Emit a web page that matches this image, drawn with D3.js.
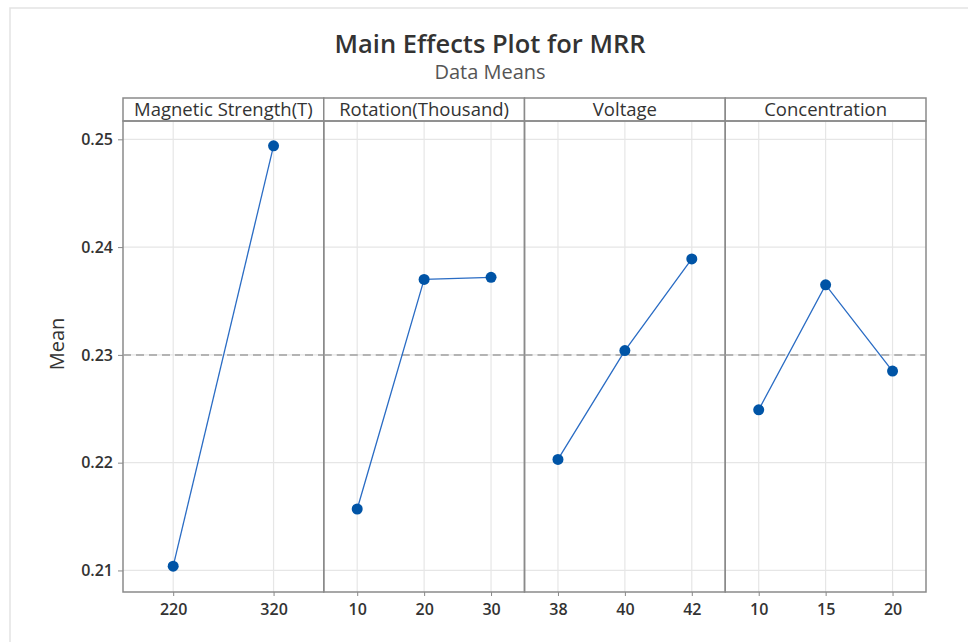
<!DOCTYPE html>
<html>
<head>
<meta charset="utf-8">
<script src="https://cdn.jsdelivr.net/npm/d3@7"></script>
<style>
  body { margin: 0; background: #fff; }
  svg { display: block; font-family: "Open Sans", "Noto Sans", sans-serif; }
</style>
</head>
<body>
<div id="chart"></div>
<script>
// factors and their levels
const factors = ["Magnetic Strength(T)", "Rotation(Thousand)", "Voltage", "Concentration"];
const levels = [
  ["220", "320"],
  ["10", "20", "30"],
  ["38", "40", "42"],
  ["10", "15", "20"]
];
// data means for each level
const means = [
  [0.2104, 0.2494],
  [0.2157, 0.2370, 0.2372],
  [0.2203, 0.2304, 0.2389],
  [0.2249, 0.2365, 0.2285]
];
const grandMean = 0.2300;
const yTicks = [0.21, 0.22, 0.23, 0.24, 0.25];

var width = 968, height = 642;
var margin = {top: 98, right: 42, bottom: 50, left: 123};
var stripH = 23;

var svg = d3.select("#chart")
  .append("svg")
    .attr("width", width)
    .attr("height", height);

// light outer frame
svg.append("path")
  .attr("d", "M10," + height + "V8H" + width)
  .attr("fill", "none")
  .attr("stroke", "#e3e3e3")
  .attr("stroke-width", 1.5);

var plotTop = margin.top + stripH,
    plotBottom = height - margin.bottom,
    plotLeft = margin.left,
    plotRight = width - margin.right;

// panels
var xPanel = d3.scaleBand()
  .domain(factors)
  .range([plotLeft, plotRight])
  .paddingInner(0);

var y = d3.scaleLinear()
  .domain([0.208, 0.2517])
  .range([plotBottom, plotTop]);

// horizontal gridlines
svg.append("g")
  .selectAll("line")
  .data(yTicks)
  .join("line")
    .attr("x1", plotLeft)
    .attr("x2", plotRight)
    .attr("y1", d => y(d))
    .attr("y2", d => y(d))
    .attr("stroke", "#e6e6e6")
    .attr("stroke-width", 1.2);

// y axis
var yAxis = svg.append("g")
  .attr("transform", "translate(" + plotLeft + ",0)")
  .call(d3.axisLeft(y).tickValues(yTicks).tickSize(5).tickPadding(5).tickFormat(d3.format(".2f")));
yAxis.select(".domain").remove();
yAxis.selectAll(".tick line").attr("stroke", "#888");
yAxis.selectAll("text")
  .attr("font-size", "16px")
  .attr("font-weight", 600)
  .attr("fill", "#333")
  .attr("font-family", "\"Open Sans\", sans-serif")
  .text(d => d3.format(".2f")(d).replace(/0$/, ""));

var line = d3.line();

factors.forEach(function(f, i) {
  var x0 = xPanel(f), bw = xPanel.bandwidth();
  var x = d3.scalePoint()
    .domain(levels[i])
    .range([x0, x0 + bw])
    .padding(0.5);

  // vertical gridlines
  svg.append("g")
    .selectAll("line")
    .data(levels[i])
    .join("line")
      .attr("x1", d => x(d))
      .attr("x2", d => x(d))
      .attr("y1", plotTop)
      .attr("y2", plotBottom)
      .attr("stroke", "#e6e6e6")
      .attr("stroke-width", 1.2);

  // x axis
  var xAxis = svg.append("g")
    .attr("transform", "translate(0," + plotBottom + ")")
    .call(d3.axisBottom(x).tickSize(4).tickPadding(7.5));
  xAxis.select(".domain").remove();
  xAxis.selectAll(".tick line").attr("stroke", "#888");
  xAxis.selectAll("text")
    .attr("font-size", "16px")
    .attr("font-weight", 600)
    .attr("fill", "#333")
    .attr("font-family", "\"Open Sans\", sans-serif");

  // strip label
  svg.append("rect")
    .attr("x", x0)
    .attr("y", margin.top)
    .attr("width", bw)
    .attr("height", stripH)
    .attr("fill", "#fff")
    .attr("stroke", "#8a8a8a")
    .attr("stroke-width", 1.5);
  svg.append("text")
    .attr("x", x0 + bw / 2)
    .attr("y", margin.top + 18)
    .attr("text-anchor", "middle")
    .attr("font-size", "18.5px")
    .attr("fill", "#333")
    .text(f);

  // panel border
  svg.append("rect")
    .attr("x", x0)
    .attr("y", plotTop)
    .attr("width", bw)
    .attr("height", plotBottom - plotTop)
    .attr("fill", "none")
    .attr("stroke", "#8a8a8a")
    .attr("stroke-width", 1.5);

  // mean reference line
  svg.append("line")
    .attr("x1", x0)
    .attr("x2", x0 + bw)
    .attr("y1", y(grandMean))
    .attr("y2", y(grandMean))
    .attr("stroke", "#a0a0a0")
    .attr("stroke-width", 1.5)
    .attr("stroke-dasharray", "8,5");

  var pts = levels[i].map((l, j) => [x(l), y(means[i][j])]);

  svg.append("path")
    .attr("d", line(pts))
    .attr("fill", "none")
    .attr("stroke", "#2a6cc4")
    .attr("stroke-width", 1.3);

  svg.append("g")
    .selectAll("circle")
    .data(pts)
    .join("circle")
      .attr("cx", d => d[0])
      .attr("cy", d => d[1])
      .attr("r", 5.5)
      .attr("fill", "#0054a6");
});

// titles
svg.append("text")
  .attr("x", 490)
  .attr("y", 53)
  .attr("text-anchor", "middle")
  .attr("font-size", "25.5px")
  .attr("font-weight", 600)
  .attr("fill", "#333")
  .text("Main Effects Plot for MRR");

svg.append("text")
  .attr("x", 490)
  .attr("y", 79)
  .attr("text-anchor", "middle")
  .attr("font-size", "20px")
  .attr("fill", "#555")
  .text("Data Means");

// y label
svg.append("text")
  .attr("transform", "translate(64,344) rotate(-90)")
  .attr("text-anchor", "middle")
  .attr("font-size", "20px")
  .attr("font-weight", 500)
  .attr("fill", "#333")
  .text("Mean");
</script>
</body>
</html>
